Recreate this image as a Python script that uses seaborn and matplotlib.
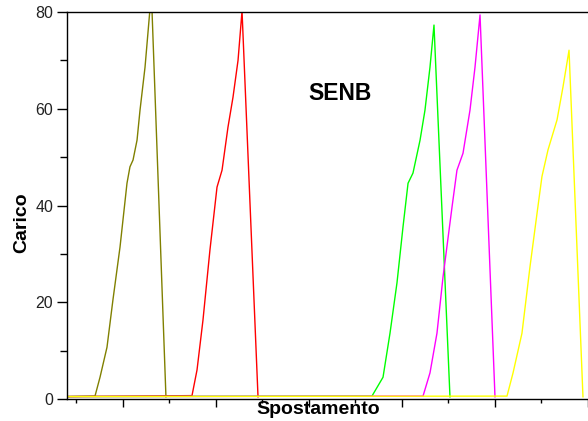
import matplotlib
matplotlib.use("Agg")
import matplotlib.pyplot as plt
import seaborn as sns
import pandas as pd
from matplotlib.ticker import MultipleLocator

# ---- data ----
x_start = 0.40
base = 0.5

olive_x = [x_start, 0.699, 0.753, 0.828, 0.892, 0.968, 1.043, 1.075, 1.108, 1.151, 1.183, 1.237, 1.280, 1.290, 1.312, 1.462]
olive_y = [base, 0.6, 4.5, 10.7, 20.5, 31.4, 44.6, 48.0, 49.4, 53.5, 59.7, 68.6, 78.3, 80.6, 80.3, 0.4]

red_x = [x_start, 1.742, 1.796, 1.860, 1.935, 2.011, 2.065, 2.129, 2.183, 2.237, 2.280, 2.452]
red_y = [base, 0.7, 6.0, 16.3, 30.8, 43.8, 47.3, 56.2, 62.4, 70.0, 80.2, 0.4]

green_x = [x_start, 3.677, 3.796, 3.871, 3.946, 4.011, 4.065, 4.118, 4.194, 4.247, 4.301, 4.344, 4.516]
green_y = [base, 0.6, 4.5, 13.6, 24.0, 35.6, 44.6, 46.7, 53.5, 59.7, 68.6, 77.3, 0.4]

magenta_x = [x_start, 4.226, 4.301, 4.376, 4.441, 4.538, 4.591, 4.656, 4.731, 4.785, 4.839, 5.000]
magenta_y = [base, 0.6, 5.4, 13.6, 25.2, 39.7, 47.3, 50.8, 59.7, 68.6, 79.4, 0.4]

yellow_x = [x_start, 5.129, 5.194, 5.290, 5.376, 5.452, 5.505, 5.570, 5.667, 5.731, 5.796, 5.946]
yellow_y = [base, 0.6, 5.4, 13.6, 27.3, 38.4, 46.0, 51.5, 57.7, 64.5, 72.1, 0.4]

series_names = ["olive", "red", "green", "magenta", "yellow"]
series_colors = ["#808000", "#FF0000", "#00FF00", "#FF00FF", "#FFFF00"]

y_ticks = [0, 20, 40, 60, 80]

frames = []
for name, xs, ys in zip(series_names,
                        [olive_x, red_x, green_x, magenta_x, yellow_x],
                        [olive_y, red_y, green_y, magenta_y, yellow_y]):
    frames.append(pd.DataFrame({"x": xs, "y": ys, "s": name}))
df = pd.concat(frames, ignore_index=True)

sns.set_theme(style="ticks")
plt.rcParams["font.family"] = ["Liberation Sans", "DejaVu Sans"]

fig = plt.figure(figsize=(5.88, 4.21), dpi=100)
ax = fig.add_axes([67 / 588, 22 / 421, 521 / 588, 387 / 421])

sns.lineplot(data=df, x="x", y="y", hue="s", palette=dict(zip(series_names, series_colors)),
             hue_order=series_names, estimator=None, sort=False, linewidth=1.0,
             legend=False, ax=ax)

ax.set_xlim(0.398, 6.0)
ax.set_ylim(0, 80)
ax.set_yticks(y_ticks)
ax.yaxis.set_minor_locator(MultipleLocator(10))
ax.xaxis.set_major_locator(MultipleLocator(1))
ax.xaxis.set_minor_locator(MultipleLocator(0.5))
ax.tick_params(axis="x", which="both", labelbottom=False, direction="out", color="black", width=1)
ax.tick_params(axis="x", which="major", length=6)
ax.tick_params(axis="x", which="minor", length=3)
ax.tick_params(axis="y", which="major", length=7, width=1, color="black", labelsize=11.5,
               labelcolor="#222222", pad=3)
ax.tick_params(axis="y", which="minor", length=5, width=1, color="black")

for side in ["left", "bottom", "top"]:
    ax.spines[side].set_color("black")
    ax.spines[side].set_linewidth(1.0)
ax.spines["right"].set_visible(False)

ax.set_xlabel("Spostamento", fontsize=14, fontweight="bold", color="black")
ax.xaxis.set_label_coords((318 - 67) / 521, (399 - 409) / 387)
ax.xaxis.label.set_va("center")
ax.set_ylabel("Carico", fontsize=14, fontweight="bold", color="black")
ax.yaxis.set_label_coords((22 - 67) / 521, (399 - 223) / 387)
ax.yaxis.label.set_va("center")

ax.text((340 - 67) / 521, (399 - 93) / 387, "SENB", transform=ax.transAxes,
        fontsize=16.5, fontweight="bold", ha="center", va="center", color="black")

fig.savefig("out.png", dpi=100)
